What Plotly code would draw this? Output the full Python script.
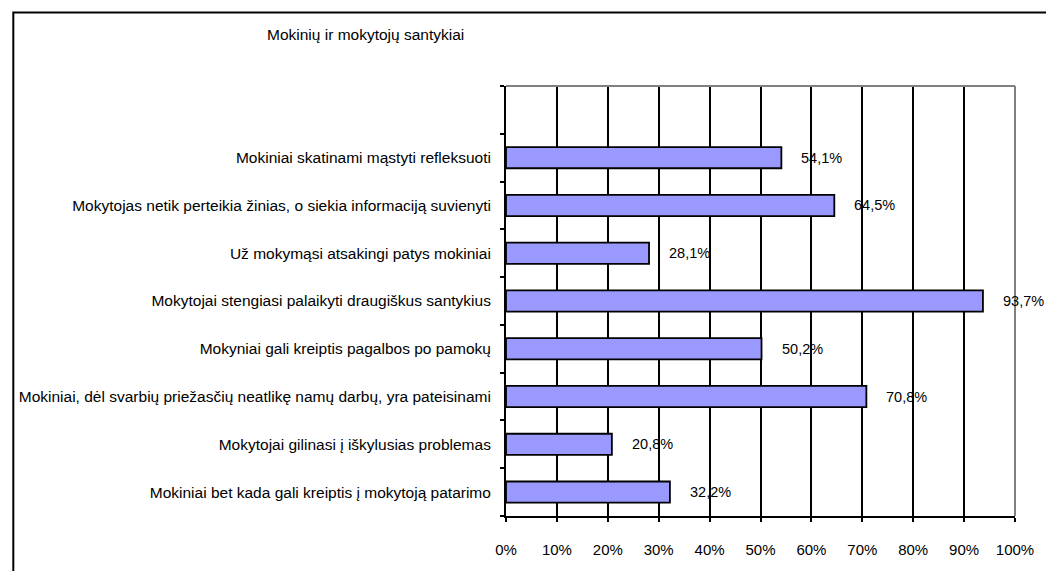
import plotly.graph_objects as go

# Categories listed bottom-to-top (as they appear on the chart)
categories = [
    "Mokiniai bet kada gali kreiptis į mokytoją patarimo",
    "Mokytojai gilinasi į iškylusias problemas",
    "Mokiniai, dėl svarbių priežasčių neatlikę namų darbų, yra pateisinami",
    "Mokyniai gali kreiptis pagalbos po pamokų",
    "Mokytojai stengiasi palaikyti draugiškus santykius",
    "Už mokymąsi atsakingi patys mokiniai",
    "Mokytojas netik perteikia žinias, o siekia informaciją suvienyti",
    "Mokiniai skatinami mąstyti refleksuoti",
]
values = [32.2, 20.8, 70.8, 50.2, 93.7, 28.1, 64.5, 54.1]
x_ticks = [0, 10, 20, 30, 40, 50, 60, 70, 80, 90, 100]
title_text = "Mokinių ir mokytojų santykiai"

FONT = "Liberation Sans, Arial, sans-serif"
FS = 15
W, H = 1046, 571
L, R, T, B = 506, 25, 86, 55
pw, ph = W - L - R, H - T - B

fig = go.Figure()
fig.add_trace(go.Bar(
    x=values, y=categories, orientation="h",
    marker=dict(color="#9999FF", line=dict(color="black", width=1.8)),
    hoverinfo="x+y",
))

labels = [f"{v:.1f}".replace(".", ",") + "%" for v in values]
for c, v, t in zip(categories, values, labels):
    fig.add_annotation(x=v, y=c, xref="x", yref="y", text=t, showarrow=False,
                       xanchor="left", yanchor="middle", xshift=18,
                       font=dict(family=FONT, size=FS - 0.5, color="black"))

def px_to_paper_x(px):
    return (px - L) / pw

def px_to_paper_y(py):
    return (H - B - py) / ph

# outer chart border
fig.add_shape(type="rect", xref="paper", yref="paper",
              x0=px_to_paper_x(7.5), x1=px_to_paper_x(1080),
              y0=px_to_paper_y(620), y1=px_to_paper_y(12.5),
              line=dict(color="black", width=2), layer="above")
# gray top & right plot-area border
fig.add_shape(type="line", xref="paper", yref="paper", x0=0, x1=1, y0=1, y1=1,
              line=dict(color="#808080", width=2), layer="above")
fig.add_shape(type="line", xref="paper", yref="paper", x0=1, x1=1, y0=0, y1=1,
              line=dict(color="#808080", width=2), layer="above")

fig.update_layout(
    width=W, height=H,
    margin=dict(l=L, r=R, t=T, b=B, pad=0),
    paper_bgcolor="white", plot_bgcolor="white",
    showlegend=False,
    bargap=0.556,
    font=dict(family=FONT, size=FS, color="black"),
    title=dict(text=title_text, xref="container", yref="container",
               x=267 / W, xanchor="left", y=1 - 35 / H, yanchor="middle",
               font=dict(family=FONT, size=FS + 0.5, color="black")),
    xaxis=dict(range=[0, 100], tickvals=x_ticks,
               ticktext=[f"{t}%" for t in x_ticks],
               showgrid=True, gridcolor="black", gridwidth=1.5,
               zeroline=False, showline=True, linecolor="black", linewidth=2,
               ticks="outside", ticklen=4, tickwidth=2, tickcolor="black",
               ticklabelstandoff=15,
               tickfont=dict(family=FONT, size=FS, color="black"),
               fixedrange=True),
    yaxis=dict(type="category", categoryorder="array",
               categoryarray=categories + [" "],
               range=[-0.5, 8.5], tickson="boundaries",
               showgrid=False, zeroline=False,
               showline=True, linecolor="black", linewidth=2,
               ticks="outside", ticklen=4, tickwidth=2, tickcolor="black",
               ticklabelstandoff=10,
               tickfont=dict(family=FONT, size=FS + 0.5, color="black"),
               fixedrange=True),
)

fig.write_html("out.html",
               config={"displayModeBar": False},
               post_script="document.body.style.margin='0';document.body.style.overflow='hidden';")
